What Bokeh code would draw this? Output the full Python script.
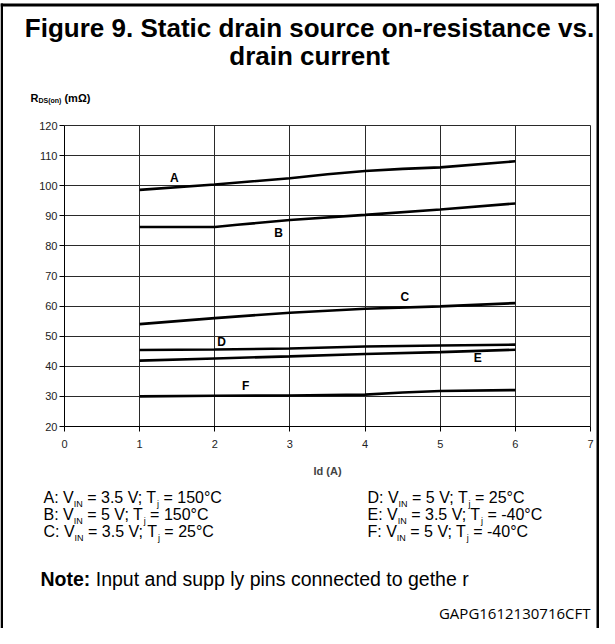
from bokeh.plotting import figure
from bokeh.models import Label, Range1d, BoxAnnotation, FixedTicker, Grid
from bokeh.embed import file_html
from bokeh.resources import INLINE

# ---------------- data ----------------
xA = [1, 2, 3, 3.5, 4, 4.5, 5, 6]
yA = [98.6, 100.4, 102.5, 103.8, 104.9, 105.6, 106.1, 108.1]
xB = [1, 2, 2.3, 3, 4, 5, 6]
yB = [86.3, 86.3, 87.0, 88.6, 90.3, 92.1, 94.1]
xC = [1, 2, 3, 4, 5, 6]
yC = [54.0, 56.0, 57.8, 59.1, 59.9, 61.0]
xD = [1, 2, 3, 4, 5, 6]
yD = [45.4, 45.6, 45.9, 46.6, 46.9, 47.2]
xE = [1, 2, 3, 4, 5, 6]
yE = [41.9, 42.6, 43.3, 44.1, 44.7, 45.5]
xF = [1, 2, 3, 4, 4.5, 5, 6]
yF = [30.0, 30.2, 30.3, 30.6, 31.3, 31.8, 32.1]

curve_names = ["A", "B", "C", "D", "E", "F"]
curve_label_pos = [(1.46, 102.7), (2.85, 84.4), (4.53, 62.9), (2.09, 48.2), (5.5, 42.6), (2.41, 33.3)]

x_ticks = [0, 1, 2, 3, 4, 5, 6, 7]
y_ticks = [20, 30, 40, 50, 60, 70, 80, 90, 100, 110, 120]

legend_left = [("A:", "3.5", "150"), ("B:", "5", "150"), ("C:", "3.5", "25")]
legend_right = [("D:", "5", "25"), ("E:", "3.5", "-40"), ("F:", "5", "-40")]

title_lines = ["Figure 9. Static drain source on-resistance vs.", "drain current"]
note_bold = "Note:"
note_text = "Input and supp ly pins connected to gethe r"
code_text = "GAPG1612130716CFT"

# ---------------- layout (pixels) ----------------
W, H = 599, 628
PX0, PX1 = 64, 590      # pixel columns of x=0 and x=7
PY0, PY1 = 426, 125     # pixel rows of y=20 and y=120
FONT = "Liberation Sans"

XMIN, XMAX = x_ticks[0], x_ticks[-1]
YMIN, YMAX = y_ticks[0], y_ticks[-1]
sx = (PX1 - PX0) / (XMAX - XMIN)
sy = (PY0 - PY1) / (YMAX - YMIN)


def dx(cx):
    return XMIN + (cx - PX0) / sx


def dy(cy):
    return YMAX - (cy - PY1) / sy


p = figure(width=W, height=H, output_backend="svg", toolbar_location=None,
           x_range=Range1d(dx(0), dx(W)), y_range=Range1d(dy(H), dy(0)),
           min_border=0, min_border_left=0, min_border_right=0,
           min_border_top=0, min_border_bottom=0)
p.outline_line_color = None
p.background_fill_color = "white"
p.border_fill_color = "white"

# axes at fixed positions inside the canvas
p.xaxis.fixed_location = YMIN
p.yaxis.fixed_location = XMIN
p.xaxis.bounds = (XMIN, XMAX)
p.yaxis.bounds = (YMIN, YMAX)
for ax in (p.xaxis[0], p.yaxis[0]):
    ax.axis_line_color = "black"
    ax.major_tick_line_color = "black"
    ax.major_tick_out = 5
    ax.major_tick_in = 0
    ax.minor_tick_line_color = None
    ax.major_label_text_font = FONT
    ax.major_label_text_font_size = "11px"
    ax.major_label_text_color = "#222222"
p.xaxis.ticker = FixedTicker(ticks=x_ticks)
p.yaxis.ticker = FixedTicker(ticks=y_ticks)
p.xaxis.major_label_standoff = 8
p.yaxis.major_label_standoff = 2
p.xaxis.axis_label = "Id (A)"
p.xaxis.axis_label_text_font = FONT
p.xaxis.axis_label_text_font_style = "bold"
p.xaxis.axis_label_text_font_size = "11px"
p.xaxis.axis_label_standoff = 14

# grid limited to the plot box
GRID_COLOR = "#2a2a2a"
if hasattr(Grid, "cross_bounds"):
    p.xgrid.ticker = FixedTicker(ticks=x_ticks[1:])
    p.ygrid.ticker = FixedTicker(ticks=y_ticks[1:])
    p.xgrid.bounds = (XMIN, XMAX)
    p.ygrid.bounds = (YMIN, YMAX)
    p.xgrid.cross_bounds = (YMIN, YMAX)
    p.ygrid.cross_bounds = (XMIN, XMAX)
    p.grid.grid_line_color = GRID_COLOR
    p.grid.grid_line_width = 1
else:
    p.grid.visible = False
    gx = x_ticks[1:]
    p.segment(x0=gx, y0=[YMIN] * len(gx), x1=gx, y1=[YMAX] * len(gx),
              line_color=GRID_COLOR, line_width=1)
    gy = y_ticks[1:]
    p.segment(x0=[XMIN] * len(gy), y0=gy, x1=[XMAX] * len(gy), y1=gy,
              line_color=GRID_COLOR, line_width=1)

# curves
for xs, ys in [(xA, yA), (xB, yB), (xC, yC), (xD, yD), (xE, yE), (xF, yF)]:
    p.line(xs, ys, line_color="black", line_width=2.6)

for name, (lx, ly) in zip(curve_names, curve_label_pos):
    p.add_layout(Label(x=lx, y=ly, text=name, text_font=FONT, text_font_style="bold",
                       text_font_size="12px", text_align="center", text_baseline="middle",
                       text_color="black"))

# ---------------- text helpers (pixel positions, y down, vertical centre) ----------------
AR = {' ': 278, '!': 278, '(': 333, ')': 333, ',': 278, '-': 333, '.': 278, ':': 278, ';': 278,
      '=': 584, '°': 400, 'A': 667, 'B': 667, 'C': 722, 'D': 722, 'E': 667, 'F': 611, 'G': 778,
      'I': 278, 'N': 722, 'P': 667, 'R': 722, 'S': 667, 'T': 611, 'V': 667,
      'a': 556, 'c': 500, 'd': 556, 'e': 556, 'g': 556, 'h': 556, 'i': 222, 'j': 222, 'l': 222,
      'n': 556, 'o': 556, 'p': 556, 'r': 333, 's': 500, 't': 278, 'u': 556, 'y': 500, 'm': 833}
AB = {' ': 278, '(': 333, ')': 333, ':': 333, 'D': 722, 'N': 722, 'R': 722, 'S': 667, 'e': 556,
      'm': 889, 'n': 611, 'o': 611, 't': 333, 'Ω': 768}


def text_width(s, size, bold=False):
    tab = AB if bold else AR
    return sum(tab.get(ch, 556) for ch in s) * size / 1000.0


def clabel(cx, cy, text, size, bold=False, align="left", font=FONT):
    p.add_layout(Label(x=dx(cx), y=dy(cy), text=text,
                       text_font=font, text_font_style="bold" if bold else "normal",
                       text_font_size=f"{size}px", text_baseline="middle",
                       text_align=align, text_color="black"))


def rich(parts, cx, cy):
    x = cx
    for txt, size, bold, off in parts:
        stripped = txt.lstrip(" ")
        x += (len(txt) - len(stripped)) * 278 * size / 1000.0
        clabel(x, cy + off, stripped, size, bold)
        x += text_width(stripped, size, bold)


# title
for i, t in enumerate(title_lines):
    clabel(309, 27 + i * 28, t, 26, True, "center")

# y axis title
rich([("R", 11, True, 0), ("DS(on)", 7, True, 3), (" (mΩ)", 11, True, 0)], 30, 97)

# legend
LS, SS = 16, 9
for col_x, rows in [(43, legend_left), (367, legend_right)]:
    for i, (nm, vin, tj) in enumerate(rows):
        c = 497 + i * 17
        rich([(nm + " V", LS, False, 0), ("IN", SS, False, 6),
              (" = " + vin + " V; T", LS, False, 0), ("j", SS, False, 6),
              (" = " + tj + "°C", LS, False, 0)], col_x, c)

# note
rich([(note_bold, 19.5, True, 0), (" " + note_text, 19.5, False, 0)], 40, 578)

clabel(590, 612, code_text, 15, False, "right", "Open Sans")

# outer frame drawn as thin filled bars (top, left, right)
for l, r, t, b in [(0, W, 3, 6), (0, 2.5, 3, H), (596, 598.5, 3, H)]:
    p.add_layout(BoxAnnotation(left=dx(l), right=dx(r), top=dy(t), bottom=dy(b),
                               fill_color="black", fill_alpha=1.0, line_alpha=0))

open("out.html", "w").write(file_html(p, INLINE))
